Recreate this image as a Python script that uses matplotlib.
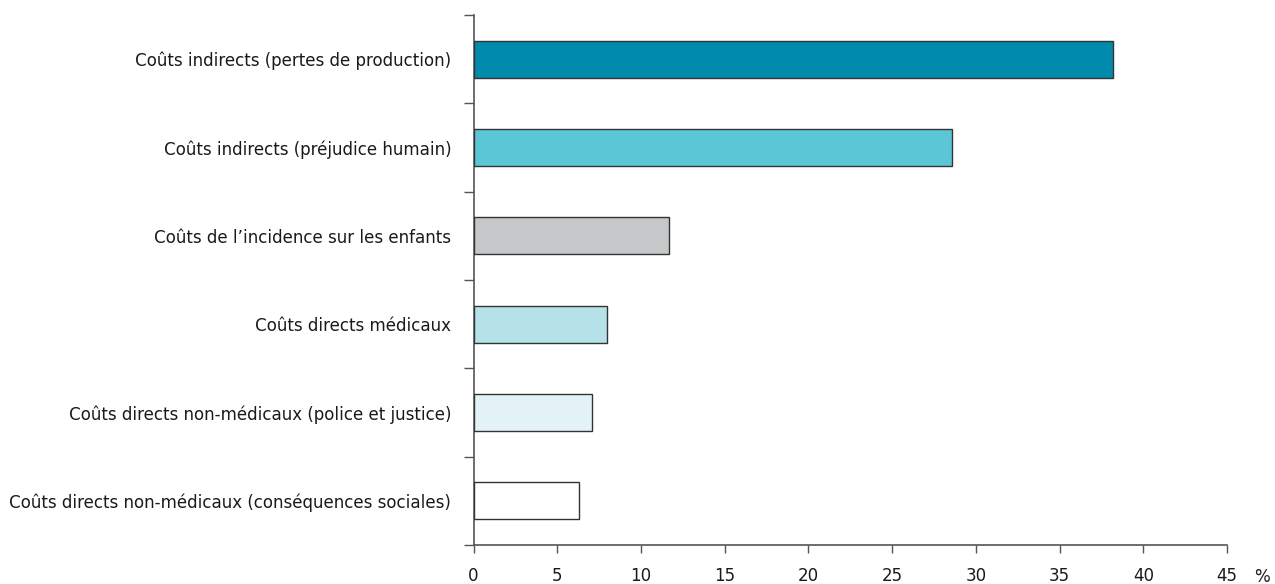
import matplotlib
matplotlib.use("Agg")
import matplotlib.pyplot as plt
from matplotlib.ticker import FixedLocator

plt.rcParams['font.family'] = ['DejaVu Sans']
plt.rcParams['font.stretch'] = 'condensed'

categories = [
    "Coûts indirects (pertes de production)",
    "Coûts indirects (préjudice humain)",
    "Coûts de l’incidence sur les enfants",
    "Coûts directs médicaux",
    "Coûts directs non-médicaux (police et justice)",
    "Coûts directs non-médicaux (conséquences sociales)",
]
values = [38.2, 28.6, 11.7, 8.0, 7.1, 6.3]
colors = ["#008bad", "#5bc6d6", "#c6c7c9", "#b5e1e8", "#e2f2f7", "#ffffff"]
xticks = [0, 5, 10, 15, 20, 25, 30, 35, 40, 45]

fig = plt.figure(figsize=(12.75, 5.84), dpi=100)
ax = fig.add_axes([473.5/1275, (584-545)/584, (1227-473.5)/1275, (545-15)/584])

ypos = list(range(len(categories)))
ax.barh(ypos, values, height=0.42, color=colors, edgecolor="#333333", linewidth=1.0, zorder=3)
ax.set_ylim(len(categories) - 0.5, -0.5)
ax.set_xlim(0, 45)

ax.set_yticks(ypos)
ax.set_yticklabels(categories, fontsize=13.3, color="#1a1a1a")
ax.tick_params(axis='y', which='major', length=0, pad=16)
ax.yaxis.set_minor_locator(FixedLocator([i - 0.5 for i in range(len(categories) + 1)]))
ax.tick_params(axis='y', which='minor', length=7, width=1, color="#555555")

ax.set_xticks(xticks)
ax.set_xticklabels([str(t) for t in xticks], fontsize=13.3, color="#1a1a1a")
ax.tick_params(axis='x', length=6, width=1, color="#555555", pad=10)

for s in ['top', 'right']:
    ax.spines[s].set_visible(False)
for s in ['left', 'bottom']:
    ax.spines[s].set_color("#555555")
    ax.spines[s].set_linewidth(1.2)

fig.text(1262/1275, (584-577)/584, "%", fontsize=13.3, color="#1a1a1a", ha='center', va='center')

fig.savefig("out.png", dpi=100)
